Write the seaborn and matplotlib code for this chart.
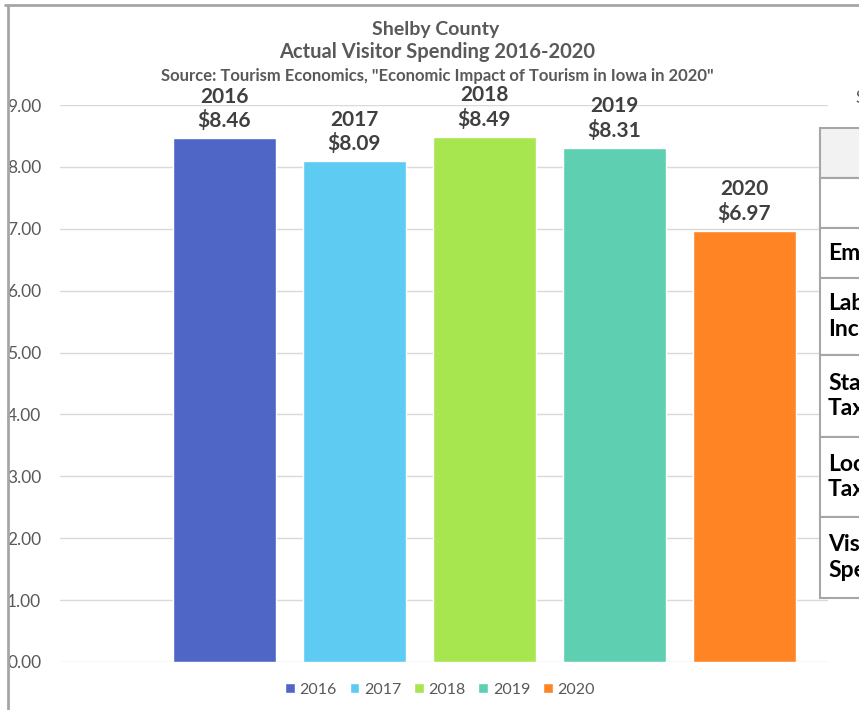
import pandas as pd
import matplotlib
matplotlib.use("Agg")
from matplotlib import pyplot as plt
from matplotlib.patches import Rectangle
from matplotlib.lines import Line2D
import seaborn as sns

years = ["2016", "2017", "2018", "2019", "2020"]
spending = [8.46, 8.09, 8.49, 8.31, 6.97]
colors = ["#4F66C7", "#5DCBF2", "#A7E64F", "#5ECFB1", "#FF8424"]
yticks = [0, 1, 2, 3, 4, 5, 6, 7, 8, 9]
table_rows = ["", "", "Employment", "Labor\nIncome", "State\nTaxes", "Local\nTaxes", "Visitor\nSpending"]

df = pd.DataFrame({"year": years, "spending": spending})

sns.set_style("white")
plt.rcParams["font.family"] = ["Lato", "DejaVu Sans"]

W, H = 859, 710
fig = plt.figure(figsize=(W / 100, H / 100), dpi=100)
ax = fig.add_axes([60 / W, 1 - 662 / H, (828 - 60) / W, (662 - 105) / H])

sns.barplot(data=df, x="year", y="spending", hue="year", palette=colors,
            saturation=1, width=0.79, ax=ax, legend=True)

ax.set_ylim(0, 9)
ax.set_xlim(-1.265, 4.642)
ax.set_yticks(yticks)
ax.set_yticklabels(["%.2f" % v for v in yticks], color="#595959", fontsize=12.5)
ax.set_xticks([])
ax.set_xlabel("")
ax.set_ylabel("")
ax.tick_params(length=0, pad=13.5)
ax.grid(axis="y", color="#D9D9D9", lw=1)
ax.set_axisbelow(True)
for s in ax.spines.values():
    s.set_visible(False)

for cont, yr, v in zip(ax.containers, years, spending):
    ax.bar_label(cont, labels=["%s\n$%.2f" % (yr, v)], padding=5, fontsize=15,
                 color="#404040", weight="bold", linespacing=1.2)

leg = ax.legend(loc="center", bbox_to_anchor=(440 / W, 1 - 690 / H),
                bbox_transform=fig.transFigure, ncol=5, frameon=False,
                handlelength=0.6, handleheight=0.6, handletextpad=0.3,
                columnspacing=0.8, fontsize=11.5)
for t in leg.get_texts():
    t.set_color("#595959")

fig.text(436 / W, 1 - 29 / H, "Shelby County", ha="center", va="center",
         fontsize=14, color="#595959", weight="bold")
fig.text(437 / W, 1 - 52 / H, "Actual Visitor Spending 2016-2020", ha="center", va="center",
         fontsize=14.5, color="#595959", weight="bold")
fig.text(437 / W, 1 - 76 / H, 'Source: Tourism Economics, "Economic Impact of Tourism in Iowa in 2020"',
         ha="center", va="center", fontsize=12, color="#595959", weight="bold")

# chart frame
fig.add_artist(Line2D([8 / W, 8 / W], [0, 1 - 5 / H], color="#A6A6A6", lw=2))
fig.add_artist(Line2D([5 / W, 1], [1 - 5 / H, 1 - 5 / H], color="#A6A6A6", lw=2))

# neighbouring table, cut off by the screenshot
fig.text(856 / W, 1 - 98 / H, "Shelby County", ha="left", va="center", fontsize=12, color="#595959")
edges = [128, 178, 228, 278, 355, 437, 517, 598]
for i, name in enumerate(table_rows):
    top, bot = edges[i], edges[i + 1]
    fig.add_artist(Rectangle((820 / W, 1 - bot / H), 60 / W, (bot - top) / H,
                             facecolor="#F2F2F2" if i == 0 else "white",
                             edgecolor="#A6A6A6", lw=1.5))
    if name:
        fig.text(828 / W, 1 - (top + bot) / 2 / H, name, ha="left", va="center",
                 fontsize=16.5, weight="bold", color="black", linespacing=1.25)

fig.savefig("out.png", dpi=100)
